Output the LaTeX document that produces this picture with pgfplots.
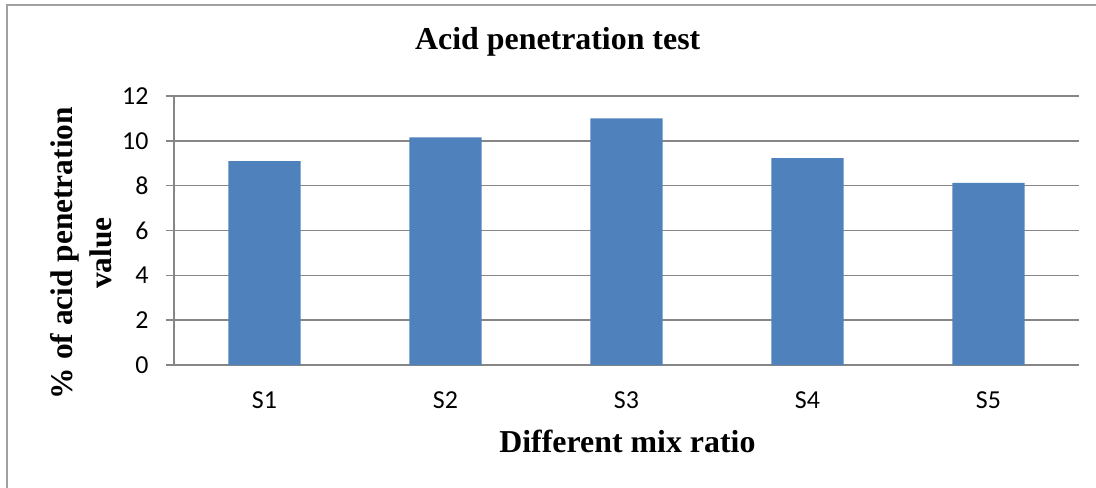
\documentclass[border=0pt]{standalone}
\usepackage{pgfplots}
\pgfplotsset{compat=1.18}
\usepackage{fontspec}
\setmainfont{Liberation Serif}
\newfontfamily\carlito{Carlito}
\definecolor{barblue}{HTML}{4F81BD}
\definecolor{gridgray}{HTML}{868686}
\definecolor{framegray}{HTML}{A0A0A0}
\begin{document}
\begin{tikzpicture}
\useasboundingbox (0,0) rectangle (1096bp,488bp);
\draw[framegray, line width=2bp] (7bp,-5bp) -- (7bp,483bp) -- (1100bp,483bp);
\begin{axis}[
  at={(174bp,123bp)}, anchor=south west,
  scale only axis, width=905bp, height=269bp,
  xmin=0.5, xmax=5.5, ymin=0, ymax=12,
  xtick={1,2,3,4,5}, xticklabels={S1,S2,S3,S4,S5},
  ytick={0,2,4,6,8,10,12},
  axis x line=bottom, axis y line=left,
  axis line style={gridgray, line width=1.5bp, -},
  x axis line style={-},
  y axis line style={-},
  ymajorgrids, major grid style={gridgray, line width=1.5bp},
  major x tick style={draw=none},
  major y tick style={gridgray, line width=1.5bp},
  tick align=outside, major tick length=8bp,
  /pgf/number format/assume math mode=true,
  ticklabel style={font=\carlito\fontsize{26}{30}\selectfont, text=black},
  yticklabel style={xshift=-14bp},
  xticklabel style={yshift=-15bp},
  title={Acid penetration test},
  title style={font=\bfseries\fontsize{32}{36}\selectfont, at={(rel axis cs:0.424,1.152)}, anchor=base},
  xlabel={Different mix ratio},
  every axis x label/.style={font=\bfseries\fontsize{32}{36}\selectfont, at={(rel axis cs:0.501,-0.327)}, anchor=base},
  ylabel={\% of acid penetration\\value},
  every axis y label/.style={font=\bfseries\fontsize{31.5}{39}\selectfont, align=center, rotate=90, at={(rel axis cs:-0.1025,0.416)}, anchor=center},
  clip=false,
]
\addplot[ybar, bar width=0.4, fill=barblue, draw=none] coordinates {
  (1,9.1) (2,10.15) (3,11.0) (4,9.23) (5,8.12)
};
\end{axis}
\end{tikzpicture}
\end{document}
